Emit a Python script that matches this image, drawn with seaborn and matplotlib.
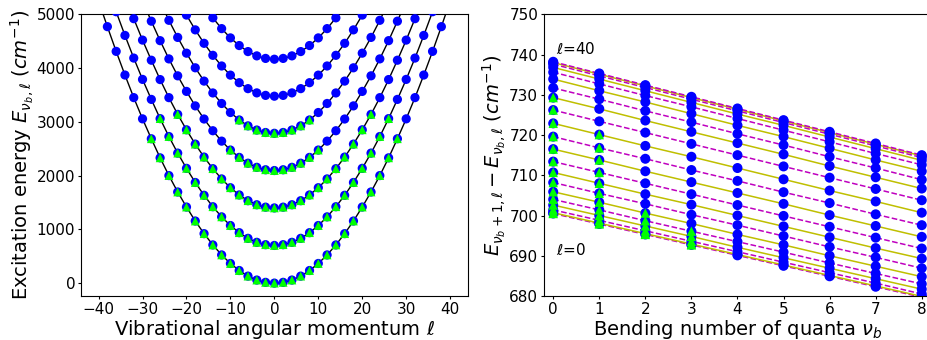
import matplotlib
matplotlib.use("Agg")
import matplotlib.pyplot as plt
import numpy as np
import pandas as pd
import seaborn as sns

# Vibrational angular momentum |l| (even values only)
ell = [0, 2, 4, 6, 8, 10, 12, 14, 16, 18, 20, 22, 24, 26, 28, 30, 32, 34, 36, 38, 40]

# Excitation energy of the v_b = 0 levels, E(0, l) in cm^-1
ground = [0, 14, 57, 130, 234, 365, 524, 710, 920, 1155, 1415, 1695, 2000,
          2330, 2685, 3055, 3450, 3870, 4310, 4770, 5245]

# Level spacings E(v_b+1, l) - E(v_b, l) in cm^-1, one row per v_b = 0..8
spacing = [
    [700.5, 700.7, 701.4, 702.6, 704.0, 705.9, 708.2, 710.7, 713.4, 716.5, 719.6,
     722.9, 726.2, 729.3, 731.7, 733.9, 735.6, 736.8, 737.6, 738.0, 738.2],
    [697.9, 698.1, 698.8, 700.0, 701.4, 703.3, 705.5, 708.0, 710.7, 713.8, 716.8,
     720.1, 723.4, 726.5, 728.9, 731.0, 732.7, 733.9, 734.7, 735.1, 735.3],
    [695.3, 695.5, 696.2, 697.4, 698.7, 700.6, 702.9, 705.3, 708.0, 711.0, 714.1,
     717.3, 720.6, 723.6, 726.0, 728.2, 729.8, 731.0, 731.8, 732.2, 732.4],
    [692.7, 692.9, 693.6, 694.8, 696.1, 698.0, 700.2, 702.7, 705.3, 708.3, 711.3,
     714.6, 717.8, 720.8, 723.2, 725.3, 727.0, 728.1, 728.9, 729.3, 729.5],
    [690.1, 690.3, 691.0, 692.1, 693.5, 695.3, 697.6, 700.0, 702.6, 705.6, 708.6,
     711.8, 715.0, 718.0, 720.3, 722.4, 724.1, 725.2, 726.0, 726.4, 726.6],
    [687.5, 687.7, 688.4, 689.5, 690.9, 692.7, 694.9, 697.3, 699.9, 702.9, 705.8,
     709.0, 712.2, 715.2, 717.5, 719.6, 721.2, 722.4, 723.1, 723.5, 723.7],
    [684.9, 685.1, 685.8, 686.9, 688.2, 690.0, 692.2, 694.6, 697.2, 700.1, 703.1,
     706.2, 709.4, 712.3, 714.6, 716.7, 718.3, 719.5, 720.2, 720.6, 720.8],
    [682.3, 682.5, 683.2, 684.3, 685.6, 687.4, 689.6, 691.9, 694.5, 697.4, 700.3,
     703.5, 706.6, 709.5, 711.8, 713.8, 715.4, 716.6, 717.3, 717.7, 717.9],
    [679.7, 679.9, 680.5, 681.7, 683.0, 684.8, 686.9, 689.3, 691.8, 694.7, 697.6,
     700.7, 703.8, 706.7, 708.9, 711.0, 712.6, 713.7, 714.4, 714.8, 715.0],
]
bending = list(range(len(spacing)))

# Largest |l| of the observed levels for v_b = 0..6 (-1: none observed)
observed_max_ell = [28, 26, 22, 10, 8, -1, -1]
n_curves = 7  # v_b = 0..6 shown against l

sns.set_style("ticks", {
    "axes.edgecolor": "black", "xtick.color": "black", "ytick.color": "black",
    "axes.labelcolor": "black", "text.color": "black",
})

# ---- level table E(v_b, l) for signed l ----
ell_arr = np.array(ell)
ground_arr = np.array(ground, dtype=float)
spacing_arr = np.array(spacing)
rows = []
energy = ground_arr.copy()
for vb in range(n_curves):
    for sign in (-1, 1):
        for k, l in enumerate(ell_arr):
            if sign == -1 and l == 0:
                continue
            rows.append({"vb": vb, "ell": sign * l, "E": energy[k],
                         "observed": l <= observed_max_ell[vb]})
    energy = energy + spacing_arr[vb]
levels = pd.DataFrame(rows).sort_values(["vb", "ell"])

# ---- spacing table ----
srows = []
for vb in bending:
    for k, l in enumerate(ell):
        obs_lo = observed_max_ell[vb] if vb < len(observed_max_ell) else -1
        obs_hi = observed_max_ell[vb + 1] if vb + 1 < len(observed_max_ell) else -1
        srows.append({"vb": vb, "ell": l, "dE": spacing[vb][k],
                      "observed": l <= min(obs_lo, obs_hi)})
gaps = pd.DataFrame(srows)

fig = plt.figure(figsize=(9.28, 3.4), dpi=100)
ax1 = fig.add_axes([0.0873, 0.1294, 0.4167, 0.8286])
ax2 = fig.add_axes([0.5862, 0.1294, 0.4170, 0.8286])

# Left: energy ladders versus l
sns.lineplot(data=levels, x="ell", y="E", units="vb", estimator=None,
             color="black", lw=1.0, sort=True, ax=ax1, legend=False, zorder=2)
sns.scatterplot(data=levels, x="ell", y="E", color="blue", s=44,
                edgecolor="none", linewidth=0, ax=ax1, legend=False, zorder=3)
sns.scatterplot(data=levels[levels["observed"]], x="ell", y="E", color="lime",
                marker="^", s=40, edgecolor="none", linewidth=0, ax=ax1,
                legend=False, zorder=4)
ax1.set_xlim(-44, 44)
ax1.set_ylim(-240, 5000)
ax1.set_xticks(range(-40, 41, 10))
ax1.set_yticks(range(0, 5001, 1000))
ax1.set_xlabel(r"Vibrational angular momentum $\ell$", fontsize=14, labelpad=1)
ax1.set_ylabel(r"Excitation energy $E_{\nu_b,\ell}$ $(cm^{-1})$", fontsize=14,
               labelpad=0.5)

# Right: spacing between neighbouring bending levels
for k, l in enumerate(ell):
    sub = gaps[gaps["ell"] == l]
    if k % 2 == 0:
        sns.lineplot(data=sub, x="vb", y="dE", color="m", lw=1.1,
                     linestyle="--", ax=ax2, legend=False, zorder=2)
    else:
        sns.lineplot(data=sub, x="vb", y="dE", color="y", lw=1.1,
                     ax=ax2, legend=False, zorder=2)
sns.scatterplot(data=gaps, x="vb", y="dE", color="blue", s=52,
                edgecolor="none", linewidth=0, ax=ax2, legend=False, zorder=3)
sns.scatterplot(data=gaps[gaps["observed"]], x="vb", y="dE", color="lime",
                marker="^", s=46, edgecolor="none", linewidth=0, ax=ax2,
                legend=False, zorder=4)
ax2.text(0.05, 740.2, r"$\ell$=40", fontsize=11)
ax2.text(0.05, 690.2, r"$\ell$=0", fontsize=11)
ax2.set_xlim(-0.2, 8.2)
ax2.set_ylim(680, 750)
ax2.set_xticks(bending)
ax2.set_yticks(range(680, 751, 10))
ax2.set_xlabel(r"Bending number of quanta $\nu_b$", fontsize=14, labelpad=1)
ax2.set_ylabel(r"$E_{\nu_b+1,\ell} - E_{\nu_b,\ell}$ $(cm^{-1})$", fontsize=14,
               labelpad=0.5)

for ax in (ax1, ax2):
    ax.tick_params(labelsize=11, length=2.2, pad=2)

fig.savefig("out.png", dpi=100)
